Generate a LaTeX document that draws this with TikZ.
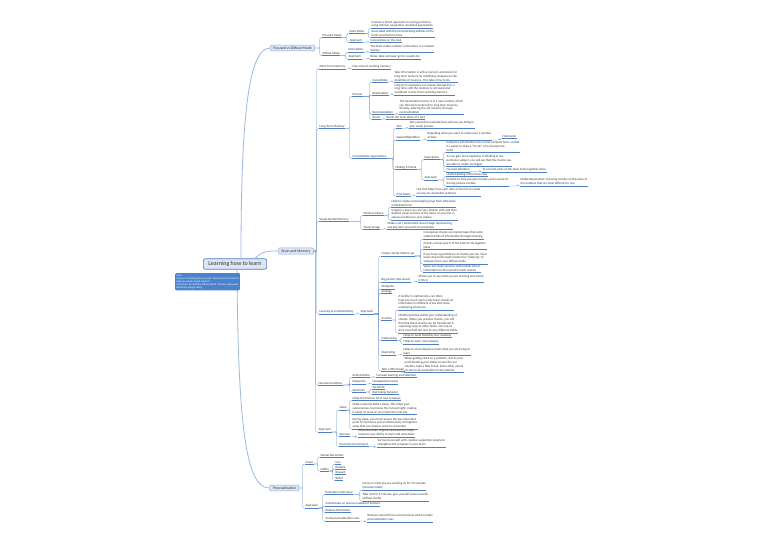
\documentclass[tikz,border=0pt]{standalone}
\usepackage{fontspec}
\setmainfont{Carlito}
\usetikzlibrary{calc}
\definecolor{linkblue}{HTML}{4F7FC0}
\definecolor{branchblue}{HTML}{9BB8E0}
\definecolor{boxfill}{HTML}{DCE6F4}
\definecolor{boxline}{HTML}{8FAEDB}
\definecolor{notefill}{HTML}{4A83CC}
\tikzset{
  uline/.style={draw=linkblue, line width=0.45pt},
  leaf/.style={font=\fontsize{3.15}{3.75}\selectfont, text=black!80, inner xsep=0.4pt, inner ysep=0.7pt,
    anchor=south west, align=left,
    append after command={(\tikzlastnode.south west) edge[uline] (\tikzlastnode.south east)}},
  link/.style={draw=linkblue!85, line width=0.35pt, rounded corners=1.2pt},
  elbow/.style={to path={-- ($(\tikztostart -| \tikztotarget)+(-2.2,0)$) |- (\tikztotarget)}},
  mainbox/.style={draw=boxline, fill=boxfill, rounded corners=1.2pt, line width=0.5pt, text=black!80,
    font=\fontsize{3.8}{4.5}\selectfont, inner xsep=3pt, inner ysep=1.6pt},
  rootbox/.style={draw=linkblue, fill=boxfill, rounded corners=2pt, line width=0.7pt, text=black!80,
    font=\fontsize{6}{7}\selectfont, inner xsep=5pt, inner ysep=2.6pt},
  notebox/.style={fill=notefill, rounded corners=1pt, text=white, font=\fontsize{2.6}{3.1}\selectfont,
    align=left, inner sep=1.2pt, anchor=north west},
  branch/.style={draw=branchblue, line width=0.8pt}
}
\begin{document}
\begin{tikzpicture}[x=1pt,y=-1pt]
\fill[white] (0,0) rectangle (768,543);
\useasboundingbox (0,0) rectangle (768,543);

\node[rootbox] (root) at (235,264) {Learning how to learn};
\node[mainbox] (fdm) at (292.5,48) {Focused vs Diffuse Mode};
\node[mainbox] (bam) at (296,251) {Brain and Memory};
\node[mainbox] (pro) at (284.5,488) {Procrastination};
\draw[branch] ([xshift=6pt]root.north) .. controls (241,120) and (248,48) .. (fdm.west);
\draw[branch] ([xshift=20pt]root.north) .. controls (262,251) and (268,251) .. (bam.west);
\draw[branch] ([xshift=2pt]root.south) .. controls (238,440) and (248,488) .. (pro.west);
\node[notebox] (note) at (175,273) {Links\\Coursera ``Learning How to Learn: Powerful mental tools to\\help you master tough subjects''\\Instructors: Dr. Barbara Oakley and Dr. Terrence Sejnowski\\Mindmap: Dingjie Wang};

% focused vs diffuse
\node[leaf] (fm) at (322,37.5) {Focused Mode};
\node[leaf] (fmd) at (349,33.5) {Description};
\node[leaf] (fmd1) at (371,28.3) {Involves a direct approach to solving problems\\using rational, sequential, analytical approaches};
\node[leaf] (fmd2) at (371,37.7) {Associated with the concentrating abilities of the\\brain's prefrontal cortex};
\node[leaf] (fma) at (349,42.5) {Approach};
\node[leaf] (fma1) at (370,42.5) {Concentrate on the task};
\node[leaf] (dm) at (322,55.5) {Diffuse Mode};
\node[leaf] (dmd) at (348,52.3) {Description};
\node[leaf] (dmd1) at (370,52.3) {The brain makes random connections in a relaxed\\fashion};
\node[leaf] (dma) at (348,59) {Approach};
\node[leaf] (dma1) at (370,59) {Relax, take a shower, go for a walk, etc.};

% brain and memory
\node[leaf] (stm) at (319,69) {Short Term Memory};
\node[leaf] (stm1) at (352,69) {Four slots of working memory};
\node[leaf] (ltm) at (319,128.5) {Long Term Memory};
\node[leaf] (proc) at (352,96.5) {Process};
\node[leaf] (cons) at (372,82) {Consolidate};
\node[leaf] (cons1) at (394,82) {Take information in active memory and store it in\\long term memory by modifying synapses on the\\dendrites of neurons. This takes time to do.};
\node[leaf] (react) at (372,95) {Reactivation};
\node[leaf] (react1) at (394,95) {Long term memories can remain dormant for a\\long time until the memory is retrieved and\\combined in short term working memory};
\node[leaf] (recon) at (372,114.5) {Reconsolidation};
\node[leaf] (recon1) at (399,114.5) {The reinstated memory is in a new context, which\\can then be transferred to long term memory,\\thereby, altering the old memory through\\reconsolidation};
\node[leaf] (recall) at (372,119.5) {Recall};
\node[leaf] (recall1) at (386,119.5) {Recall the main ideas of a text};
\node[leaf] (ca) at (352,158.5) {Consolidation Approaches};
\node[leaf] (test) at (396,128.5) {Test};
\node[leaf] (test1) at (409,128.5) {Test yourself to evaluate how well are you doing in\\your study process};
\node[leaf] (sr) at (396,140) {Spaced Repetition};
\node[leaf] (sr1) at (427,140) {Repeating what you want to retain over a number\\of days};
\node[leaf] (flash) at (502,138.5) {Flashcards};
\node[leaf] (mac) at (395,169.5) {Making A Chunk};
\node[leaf] (macd) at (424,159.5) {Description};
\node[leaf] (macd1) at (446,152.3) {Compress information into a more compact form, so that\\it's easier to draw a ``chunk'' of a concept into\\mind};
\node[leaf] (macd2) at (446,166.5) {As you gain more expertise in thinking in any\\particular subject, you will see that the chunks you\\are able to create are bigger};
\node[leaf] (fa) at (446,171.8) {Focused attention};
\node[leaf] (fa1) at (482,171.8) {To connect parts of the brain to tie together ideas};
\node[leaf] (maca) at (424,180) {Approach};
\node[leaf] (maca1) at (446,176.5) {Understanding of the basic idea};
\node[leaf] (maca2) at (446,186) {Practice to help you gain mastery and a sense of\\the big-picture context};
\node[leaf] (maca3) at (520,186) {Deliberate practice: focusing intently on the parts of\\the problem that are most difficult for you};
\node[leaf] (fl) at (396,196) {First letters};
\node[leaf] (fl1) at (416,196) {Use first letter from each item on the list to create\\an easy-to-remember sentence};
\node[leaf] (vsm) at (319,221.5) {Visual-Spatial Memory};
\node[leaf] (mp) at (363,215.5) {Memory Palace};
\node[leaf] (mp1) at (391,207) {Help to create a meaningful group from otherwise\\unrelated items};
\node[leaf] (mp2) at (391,220) {Imagine a place you are very familiar with and then\\deposit visual versions of the items on your list in\\various locations in your palace};
\node[leaf] (vi) at (363,229.5) {Visual Image};
\node[leaf] (vi1) at (387,229.5) {Make a very memorable visual image representing\\one key item you want to remember};
\node[leaf] (lu) at (319,314) {Learning \& Understanding};
\node[leaf] (lua) at (360,314) {Approach};
\node[leaf] (ccb) at (381,256) {Create chunks bottom-up};
\node[leaf] (ccb1) at (423,239) {Conceptual chunks are mental leaps that unite\\scattered bits of information through meaning};
\node[leaf] (ccb2) at (423,249) {Chunks connect parts of the brain to tie together\\ideas};
\node[leaf] (ccb3) at (423,264) {If you have a good library of chunks you can more\\easily skip to the right solution by ``listening'' to\\whispers from your diffuse mode};
\node[leaf] (ccb4) at (423,272) {Space out study sessions with smaller bits of\\information to be learned in each session};
\node[leaf] (bp) at (381,282) {Big picture (top-down)};
\node[leaf] (bp1) at (418,282) {Allows you to see what you are learning and where\\it fits in};
\node[leaf] (meta) at (381,289) {Metaphor};
\node[leaf] (ana) at (381,293.7) {Analogy};
\node[leaf] (prac) at (381,320) {Practice};
\node[leaf] (prac1) at (398,310) {A facility in mathematics can often\\help you much more easily learn chunks of\\information in different areas that share\\underlying structures};
\node[leaf] (prac2) at (398,333) {Mindful practice builds your understanding of\\chunks. When you practice chunks, you will\\find that these chunks can be transferred in\\surprising ways to other fields, not only to\\their own field but also to very different fields};
\node[leaf] (inter) at (381,340.5) {Interleaving};
\node[leaf] (inter1) at (403,337.5) {Helps to build flexibility and creativity};
\node[leaf] (inter2) at (403,344) {Helps to learn more deeply};
\node[leaf] (illu) at (381,355) {Illustrating};
\node[leaf] (illu1) at (403,355) {Helps to more deeply encode what you are trying to\\learn};
\node[leaf] (tlb) at (381,371) {Take a little break};
\node[leaf] (tlb1) at (404,372) {When getting stuck on a problem, due to your\\mind blocking your ability to see the real\\solution, take a little break, allow other neural\\circuits to be accessible to the material};
\node[leaf] (nt) at (318,385) {Neurotransmitters};
\node[leaf] (ach) at (352,377.5) {Acetylcholine};
\node[leaf] (ach1) at (376,377.5) {Focused learning and attention};
\node[leaf] (dop) at (352,384) {Dopamine};
\node[leaf] (dop1) at (372,384) {Unexpected reward};
\node[leaf] (ser) at (352,392) {Serotonin};
\node[leaf] (ser1) at (372,389) {Social life};
\node[leaf] (ser2) at (372,394.5) {Risk taking behavior};
\node[leaf] (ba) at (318,432) {Approach};
\node[leaf] (sleep) at (339,410) {Sleep};
\node[leaf] (s1) at (352,400.5) {Helps the brain to form new synapses};
\node[leaf] (s2) at (352,414.5) {Make a task list before sleep. This helps your\\subconscious to process the list overnight, making\\it easier to work on your tasks the next day};
\node[leaf] (s3) at (352,429) {During sleep, your brain erases the less important\\parts of memories and simultaneously strengthens\\areas that you need or want to remember};
\node[leaf] (ex) at (339,436.5) {Exercise};
\node[leaf] (ex1) at (358,437) {Allow the brain to grow new neurons, helps\\improve your ability to learn and remember};
\node[leaf] (env) at (339,446.5) {Enriched environment};
\node[leaf] (env1) at (377,447) {Surround yourself with creative supportive people to\\strengthen the synapses in your brain};

% procrastination
\node[leaf] (cause) at (305,464) {Cause};
\node[leaf] (nd) at (320,457) {Neural discomfort};
\node[leaf] (hab) at (320,471) {Habits};
\node[leaf] (cue) at (335,464) {Cue};
\node[leaf] (rout) at (335,469) {Routine};
\node[leaf] (rew) at (335,474.5) {Reward};
\node[leaf] (bel) at (335,480.5) {Belief};
\node[leaf] (pa) at (305,508) {Approach};
\node[leaf] (pom) at (325,494.5) {Pomodoro technique};
\node[leaf] (pom1) at (362,490) {Focus on what you are working on for 25 minutes\\(focused mode)};
\node[leaf] (pom2) at (362,501) {Take rest for 5 minutes, give yourself some rewards\\(diffuse mode)};
\node[leaf] (cpp) at (325,506) {Concentrate on process instead of product};
\node[leaf] (rd) at (325,512.5) {Reduce distractions};
\node[leaf] (apc) at (325,521) {Avoid procrastination cues};
\node[leaf] (apc1) at (367,522) {Remove yourself from environments which contain\\procrastination cues};

\foreach \p/\c in {fdm/fm, fdm/dm, bam/stm, bam/ltm, bam/vsm, bam/lu, bam/nt, bam/ba, pro/cause, pro/pa}
  \draw[link] (\p.east) to[elbow] (\c.south west);
\foreach \p/\c in {fm/fmd, fm/fma, fmd/fmd1, fmd/fmd2, fma/fma1, dm/dmd, dm/dma, dmd/dmd1, dma/dma1,
    stm/stm1, ltm/proc, ltm/ca, proc/cons, proc/react, proc/recon, proc/recall, cons/cons1, react/react1,
    recon/recon1, recall/recall1, ca/test, ca/sr, ca/mac, ca/fl, test/test1, sr/sr1, sr1/flash,
    mac/macd, mac/maca, macd/macd1, macd/macd2, macd/fa, fa/fa1, maca/maca1, maca/maca2, maca2/maca3,
    fl/fl1, vsm/mp, vsm/vi, mp/mp1, mp/mp2, vi/vi1, lu/lua, lua/ccb, lua/bp, lua/meta, lua/ana, lua/prac,
    lua/inter, lua/illu, lua/tlb, ccb/ccb1, ccb/ccb2, ccb/ccb3, ccb/ccb4, bp/bp1, prac/prac1, prac/prac2,
    inter/inter1, inter/inter2, illu/illu1, tlb/tlb1, nt/ach, nt/dop, nt/ser, ach/ach1, dop/dop1,
    ser/ser1, ser/ser2, ba/sleep, ba/ex, ba/env, sleep/s1, sleep/s2, sleep/s3, ex/ex1, env/env1,
    cause/nd, cause/hab, hab/cue, hab/rout, hab/rew, hab/bel, pa/pom, pa/cpp, pa/rd, pa/apc,
    pom/pom1, pom/pom2, apc/apc1}
  \draw[link] (\p.south east) to[elbow] (\c.south west);
\end{tikzpicture}
\end{document}
